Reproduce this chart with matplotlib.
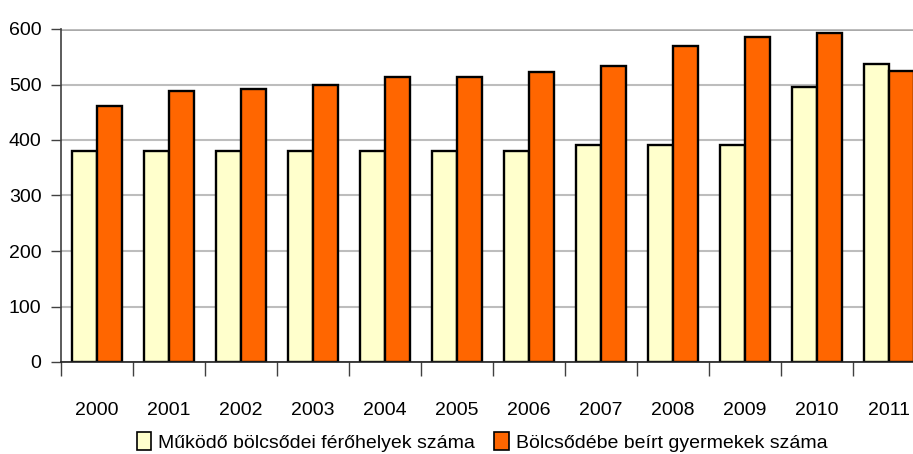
import matplotlib
matplotlib.use("Agg")
import matplotlib.pyplot as plt
import numpy as np
from matplotlib.patches import Patch

years = ["2000", "2001", "2002", "2003", "2004", "2005", "2006", "2007", "2008", "2009", "2010", "2011"]
ferohely = [380, 380, 380, 380, 380, 380, 380, 391, 391, 391, 495, 537]
beirt = [461, 488, 491, 499, 514, 514, 522, 533, 570, 585, 593, 525]
series_labels = ["Működő bölcsődei férőhelyek száma", "Bölcsődébe beírt gyermekek száma"]
yticks = [0, 100, 200, 300, 400, 500, 600]

plt.rcParams['font.family'] = ['Liberation Sans', 'DejaVu Sans']

W, H = 913, 454
fig = plt.figure(figsize=(W / 100, H / 100), dpi=100)
ax = fig.add_axes([61 / W, 92 / H, 864 / W, 333 / H])

x = np.arange(len(years))
bw = 0.346
ax.bar(x - bw / 2, ferohely, bw, color="#FFFFCC", edgecolor="black", linewidth=1.7, zorder=3)
ax.bar(x + bw / 2, beirt, bw, color="#FF6600", edgecolor="black", linewidth=1.7, zorder=3)

ax.set_xlim(-0.5, len(years) - 0.5)
ax.set_ylim(0, 600)
ax.set_yticks(yticks)
ax.set_yticklabels([str(v) for v in yticks], fontsize=14)
ax.yaxis.grid(True, color="#bdbdbd", linewidth=1.5, zorder=0)
ax.axhline(600, color="#a0a0a0", linewidth=2, zorder=1)

ax.set_xticks(x)
ax.set_xticklabels(years, fontsize=14)
ax.set_xticks(np.arange(len(years)) - 0.5, minor=True)
ax.tick_params(axis="x", which="major", length=0, pad=29)
ax.tick_params(axis="x", which="minor", length=10, color="#404040", width=1)
ax.tick_params(axis="y", length=7, color="#404040", width=1, pad=7)

for s in ["top", "right"]:
    ax.spines[s].set_visible(False)
ax.spines["left"].set_color("#404040")
ax.spines["left"].set_linewidth(1.2)
ax.spines["bottom"].set_color("#202020")
ax.spines["bottom"].set_linewidth(1.2)
ax.spines["bottom"].set_zorder(4)

handles = [Patch(facecolor="#FFFFCC", edgecolor="black", linewidth=1.2),
           Patch(facecolor="#FF6600", edgecolor="black", linewidth=1.2)]
fig.legend(handles, series_labels, loc="center", bbox_to_anchor=(482 / W, 1 - 442 / H),
           ncol=2, frameon=False, fontsize=14, handlelength=0.75, handleheight=1.0,
           handletextpad=0.35, columnspacing=1.0, borderpad=0)

fig.savefig("out.png", dpi=100)
